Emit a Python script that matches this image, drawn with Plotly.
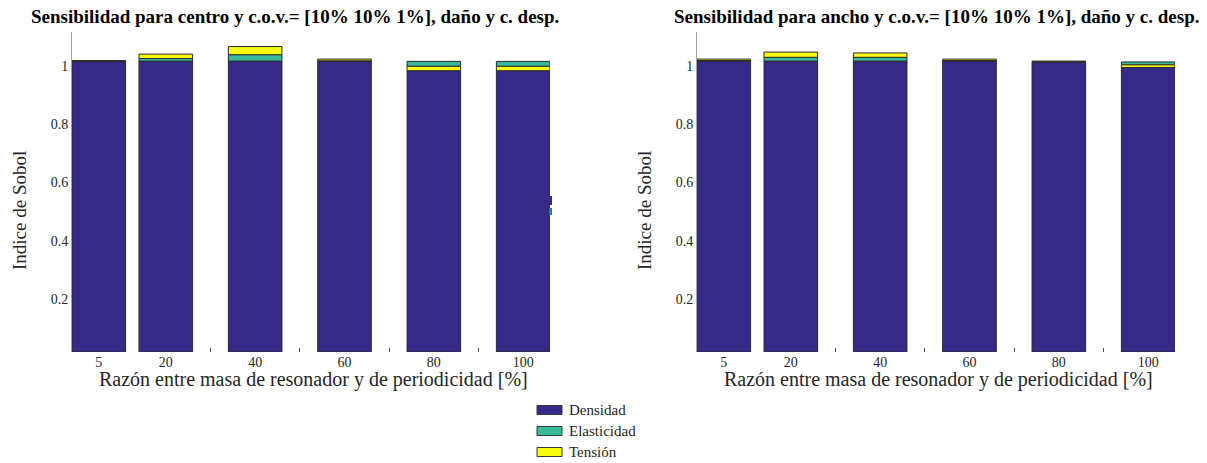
import plotly.graph_objects as go

W, H = 1207, 463

razon = [5, 20, 40, 60, 80, 100]
etiquetas_x = ["5", "20", "40", "60", "80", "100"]
ticks_y = [0.2, 0.4, 0.6, 0.8, 1.0]
etiquetas_y = ["0.2", "0.4", "0.6", "0.8", "1"]

# panel izquierdo: centro
centro_densidad = [1.0, 1.0, 1.0, 1.0, 0.967, 0.967]
centro_elasticidad = [0.0005, 0.009, 0.022, 0.001, 0.017, 0.017]
centro_tension = [0.0005, 0.015, 0.028, 0.006, 0.015, 0.015]
centro_tension_debajo = [False, False, False, False, True, True]

# panel derecho: ancho
ancho_densidad = [1.0, 1.0, 1.0, 1.0, 0.996, 0.978]
ancho_elasticidad = [0.002, 0.013, 0.013, 0.002, 0.002, 0.010]
ancho_tension = [0.005, 0.018, 0.015, 0.005, 0.002, 0.009]
ancho_tension_debajo = [False, False, False, False, False, True]

nombres = ["Densidad", "Elasticidad", "Tensión"]
colores = ["#352a87", "#38b99c", "#f9fb0e"]
borde = "#2b2b2b"
fuente = "Liberation Serif"

titulos = [
    "Sensibilidad para centro y c.o.v.= [10% 10% 1%], daño y c. desp.",
    "Sensibilidad para ancho y c.o.v.= [10% 10% 1%], daño y c. desp.",
]
titulo_x = "Razón entre masa de resonador y de periodicidad [%]"
titulo_y = "Indice de Sobol"

paneles = [
    (centro_densidad, centro_elasticidad, centro_tension, centro_tension_debajo),
    (ancho_densidad, ancho_elasticidad, ancho_tension, ancho_tension_debajo),
]

# pixel placement of both axes boxes
cajas_x = [(72, 550), (697, 1175)]
caja_y = (32, 352)


def px_x(p):
    return p / W


def px_y(p):
    return 1 - p / H


def texto(t, x, y, size, xanchor="center", angle=0, color="#262626"):
    return dict(text=t, x=px_x(x), y=px_y(y), xref="paper", yref="paper",
                xanchor=xanchor, yanchor="middle", showarrow=False, textangle=angle,
                font=dict(family=fuente, size=size, color=color))


fig = go.Figure()

for k, (dens, elast, tens, debajo) in enumerate(paneles):
    xa = "x" if k == 0 else "x2"
    ya = "y" if k == 0 else "y2"
    base_e = [d + (t if b else 0) for d, t, b in zip(dens, tens, debajo)]
    base_t = [d + (0 if b else e) for d, e, b in zip(dens, elast, debajo)]
    for nombre, vals, base, color in [
        (nombres[0], dens, [0] * len(dens), colores[0]),
        (nombres[1], elast, base_e, colores[1]),
        (nombres[2], tens, base_t, colores[2]),
    ]:
        fig.add_trace(go.Bar(
            x=razon, y=vals, base=base, name=nombre, width=12,
            marker=dict(color=color, line=dict(color=borde, width=1)),
            xaxis=xa, yaxis=ya, showlegend=False,
        ))

eje_x = dict(
    range=[-1, 106], tickmode="array", tickvals=razon, ticktext=etiquetas_x,
    ticks="", showgrid=False, zeroline=False, showline=False,
    tickfont=dict(family=fuente, size=14, color="#262626"),
    ticklabelstandoff=0,
    minor=dict(tickmode="array", tickvals=[30, 50, 70, 90], ticks="inside",
               ticklen=4, tickcolor="#555555", showgrid=False),
)
eje_y = dict(
    range=[0, 1.1], tickmode="array", tickvals=ticks_y, ticktext=etiquetas_y,
    ticks="inside", ticklen=5, tickcolor="#444444", showgrid=False,
    zeroline=False, showline=True, linecolor="#a0a0a0", linewidth=1,
    tickfont=dict(family=fuente, size=14, color="#262626"),
    ticklabelstandoff=0, ticklabelshift=5, layer="below traces",
)

dom_y = [px_y(caja_y[1]), px_y(caja_y[0])]
fig.update_layout(
    width=W, height=H, margin=dict(l=0, r=0, t=0, b=0),
    paper_bgcolor="white", plot_bgcolor="white", barmode="overlay",
    xaxis=dict(eje_x, domain=[px_x(cajas_x[0][0]), px_x(cajas_x[0][1])], anchor="y"),
    yaxis=dict(eje_y, domain=dom_y, anchor="x"),
    xaxis2=dict(eje_x, domain=[px_x(cajas_x[1][0]), px_x(cajas_x[1][1])], anchor="y2"),
    yaxis2=dict(eje_y, domain=dom_y, anchor="x2"),
    font=dict(family=fuente, color="#262626"),
)

anot = []
for k, (x0, x1) in enumerate(cajas_x):
    centro = (x0 + x1) / 2
    anot.append(texto("<b>" + titulos[k] + "</b>", centro - 16 if k == 0 else centro + 1, 17, 19,
                      color="black"))
    anot.append(texto(titulo_x, centro + 2, 379, 20))
    anot.append(texto(titulo_y, x0 - 53, 211, 19, angle=-90))

# legend drawn by hand (wide rectangles like the original)
formas = []
for i, (nombre, color) in enumerate(zip(nombres, colores)):
    yc = 410 + 21 * i
    formas.append(dict(type="rect", xref="paper", yref="paper",
                       x0=px_x(537), x1=px_x(562), y0=px_y(yc - 4.5), y1=px_y(yc + 4.5),
                       fillcolor=color, line=dict(color="#3a3a3a", width=1)))
    anot.append(texto(nombre, 567, yc, 15, xanchor="left"))

# small clipped marks at right edge of left panel
formas.append(dict(type="rect", xref="paper", yref="paper", x0=px_x(549), x1=px_x(552),
                   y0=px_y(205), y1=px_y(196), fillcolor=colores[0], line=dict(width=0)))
formas.append(dict(type="rect", xref="paper", yref="paper", x0=px_x(549), x1=px_x(552),
                   y0=px_y(215), y1=px_y(208), fillcolor="#2e7c8a", line=dict(width=0)))

fig.update_layout(annotations=anot, shapes=formas)
fig.write_html("out.html", config={"displayModeBar": False},
               post_script="document.body.style.margin='0';")
